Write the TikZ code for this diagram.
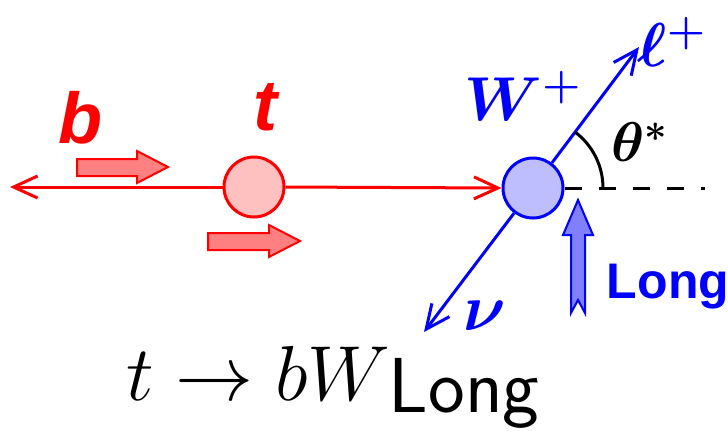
\RequirePackage{fix-cm}
\documentclass[tikz,border=0pt]{standalone}
\usepackage{fontspec}
\usetikzlibrary{arrows.meta}
\newfontfamily\arialfont{Liberation Sans}
\definecolor{quarkred}{RGB}{255,0,0}
\definecolor{bosonblue}{RGB}{0,0,255}
\definecolor{pinkfill}{RGB}{255,192,192}
\definecolor{lilacfill}{RGB}{190,190,255}

\begin{document}
\begin{tikzpicture}[
    x=0.5pt, y=-0.5pt,
    particle/.style={circle, line width=1.5pt, minimum size=30pt, inner sep=0pt},
    redline/.style={quarkred, line width=1.5pt},
    blueline/.style={bosonblue, line width=1.5pt},
    barb/.style={-{Straight Barb[length=12pt,width=11pt,line width=1.5pt]}},
    redspin/.style={draw=quarkred, fill=quarkred!50, line width=1pt},
    bluespin/.style={draw=bosonblue, fill=bosonblue!50, line width=1pt},
    redlabel/.style={quarkred, font=\arialfont\bfseries\itshape\fontsize{36}{36}\selectfont},
    bluemath/.style={bosonblue, font=\fontsize{31}{31}\selectfont\boldmath}
]
\useasboundingbox (0,0) rectangle (728,441);

% particles
\node[particle, draw=quarkred, fill=pinkfill] (top) at (254,187) {};
\node[particle, draw=bosonblue, fill=lilacfill] (W) at (533,188) {};
\coordinate (bend) at (10,187);
\coordinate (lend) at (639,47);
\coordinate (nend) at (424,332);
\coordinate (dend) at (705,188);

% momenta
\draw[redline, barb] (top.west) -- (bend);
\draw[redline, barb] (top.east) -- (W.west);
\draw[blueline, barb] (W.53) -- (lend);
\draw[blueline, barb] (W.233) -- (nend);
\draw[black, line width=1.5pt, dash pattern=on 8.5pt off 8.5pt] (W.east) -- (dend);
\draw[black, line width=1.5pt] (W.center) ++(35pt,0pt) arc[start angle=0, end angle=53, radius=35pt];

% spins
\draw[redspin] (77,159) -- (137,159) -- (137,151) -- (168,167) -- (137,183)
    -- (137,176) -- (77,176) -- cycle;
\draw[redspin] (208,233) -- (269,233) -- (269,225) -- (300,241) -- (269,257)
    -- (269,250) -- (208,250) -- cycle;
\draw[bluespin] (578,200) -- (593,235) -- (585,235) -- (585,313) -- (578,300)
    -- (571,313) -- (571,235) -- (563,235) -- cycle;

% labels
\node[redlabel] (blabel) at (80,118) {b};
\node[redlabel] (tlabel) at (265,107) {t};
\node[bluemath] (Wlabel) at (523,96) {$W^+$};
\node[bluemath] (llabel) at (672,42) {$\ell^+$};
\node[bluemath, font=\fontsize{33}{33}\selectfont\boldmath] (nulabel) at (485,316) {$\nu$};
\node[black, font=\fontsize{28}{28}\selectfont\boldmath] (thlabel) at (640,142) {$\theta^*$};
\node[bosonblue, font=\arialfont\bfseries\fontsize{25}{25}\selectfont] (longlabel) at (668,287) {Long};
\node[anchor=base, font=\fontsize{39}{39}\selectfont] (decay) at (333,400)
    {$t \rightarrow bW$\hspace{-1pt}\raisebox{-6pt}{\sffamily Long}};
\end{tikzpicture}
\end{document}
